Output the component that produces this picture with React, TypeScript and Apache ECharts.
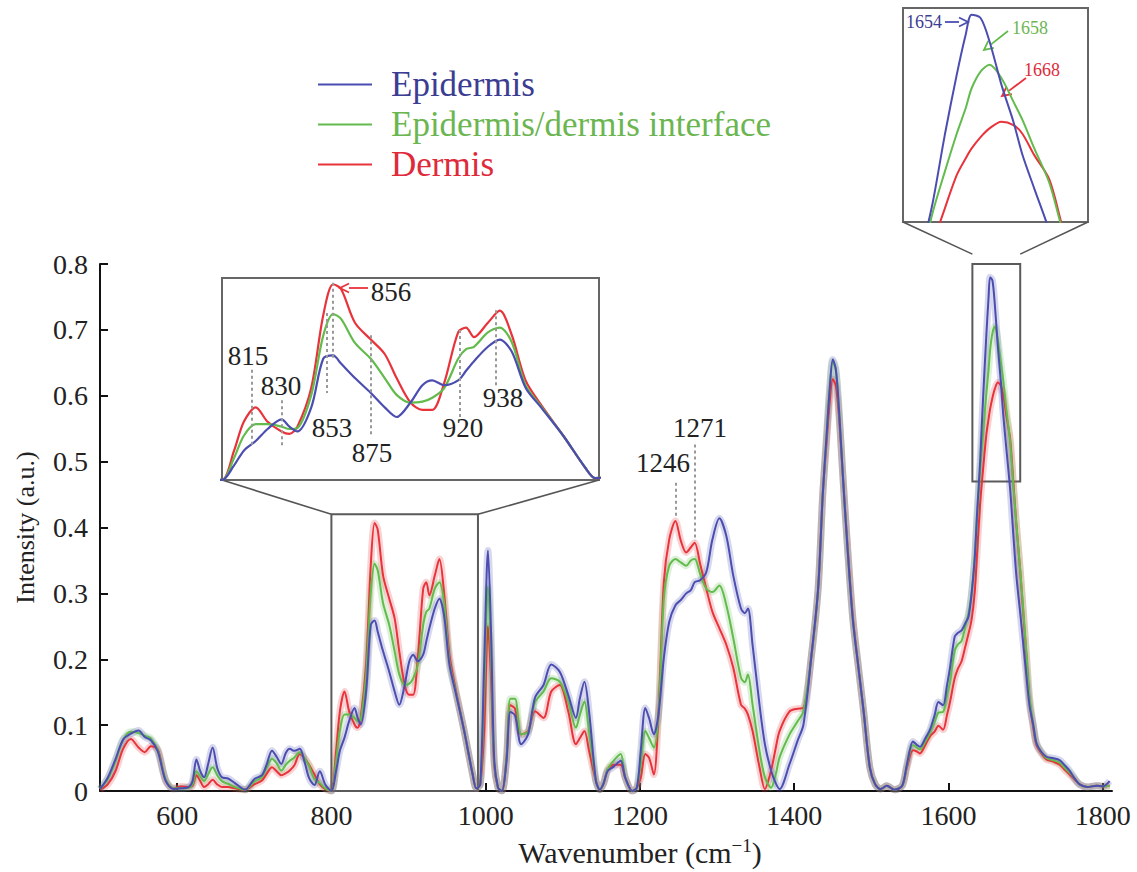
import React, { useEffect, useRef } from 'react';
import * as echarts from 'echarts';

// Wavenumber grid (cm^-1)
const wavenumbers = [
  500, 510, 520, 530, 540, 550, 558, 566, 575, 585,
  595, 605, 615, 620, 625, 630, 635, 640, 646, 652,
  658, 666, 675, 688, 700, 710, 716, 723, 729, 735,
  741, 746, 752, 759, 765, 771, 778, 785, 792, 800,
  806, 811, 817, 823, 830, 834, 838, 845, 851, 856,
  860, 867, 875, 882, 888, 895, 901, 906, 912, 919,
  923, 927, 934, 940, 946, 953, 961, 972, 983, 988,
  993, 998, 1003, 1007, 1011, 1016, 1021, 1027, 1032, 1038,
  1046, 1055, 1064, 1075, 1085, 1096, 1107, 1117, 1122, 1128,
  1134, 1143, 1148, 1153, 1158, 1166, 1175, 1181, 1190, 1196,
  1201, 1207, 1212, 1218, 1224, 1231, 1238, 1246, 1253, 1260,
  1266, 1271, 1278, 1286, 1294, 1303, 1312, 1321, 1331, 1336,
  1340, 1346, 1355, 1362, 1370, 1376, 1381, 1394, 1404, 1412,
  1422, 1431, 1437, 1442, 1446, 1450, 1454, 1458, 1463, 1469,
  1476, 1483, 1490, 1498, 1505, 1512, 1520, 1530, 1540, 1546,
  1554, 1559, 1563, 1570, 1576, 1582, 1587, 1593, 1598, 1602,
  1608, 1612, 1617, 1622, 1626, 1630, 1634, 1637, 1641, 1645,
  1649, 1652, 1654, 1657, 1660, 1664, 1668, 1671, 1675, 1680,
  1684, 1688, 1693, 1697, 1701, 1705, 1710, 1714, 1720, 1727,
  1735, 1744, 1750, 1757, 1763, 1770, 1780, 1792, 1800, 1809,
];

const epidermis = [
  0.003, 0.02, 0.048, 0.078, 0.087, 0.092, 0.082, 0.077, 0.06, 0.016,
  0.003, 0.004, 0.006, 0.015, 0.048, 0.03, 0.021, 0.04, 0.066, 0.035,
  0.021, 0.019, 0.012, 0.002, 0.018, 0.024, 0.04, 0.061, 0.052, 0.041,
  0.058, 0.064, 0.061, 0.064, 0.045, 0.02, 0.009, 0.03, 0.01, 0.0,
  0.03, 0.061, 0.081, 0.106, 0.126, 0.111, 0.101, 0.151, 0.252, 0.259,
  0.242, 0.212, 0.181, 0.151, 0.131, 0.161, 0.197, 0.207, 0.197, 0.207,
  0.227, 0.247, 0.277, 0.292, 0.267, 0.192, 0.15, 0.092, 0.026, 0.004,
  0.01, 0.19, 0.365, 0.24, 0.05, 0.005, 0.0, 0.045, 0.12, 0.115,
  0.071, 0.086, 0.142, 0.161, 0.192, 0.181, 0.146, 0.111, 0.14, 0.166,
  0.121, 0.015, 0.002, 0.012, 0.03, 0.037, 0.046, 0.02, 0.0, 0.005,
  0.06, 0.126, 0.11, 0.086, 0.116, 0.202, 0.257, 0.282, 0.29, 0.3,
  0.305, 0.317, 0.32, 0.332, 0.382, 0.414, 0.387, 0.327, 0.277, 0.27,
  0.277, 0.222, 0.131, 0.071, 0.031, 0.012, 0.003, 0.041, 0.075, 0.101,
  0.202, 0.307, 0.45, 0.54, 0.61, 0.655, 0.64, 0.58, 0.48, 0.37,
  0.26, 0.19, 0.121, 0.036, 0.01, 0.003, 0.008, 0.002, 0.008, 0.04,
  0.075, 0.07, 0.067, 0.08, 0.093, 0.115, 0.135, 0.13, 0.16, 0.187,
  0.234, 0.24, 0.244, 0.255, 0.265, 0.3, 0.353, 0.42, 0.5, 0.6,
  0.69, 0.75, 0.78, 0.775, 0.74, 0.675, 0.62, 0.571, 0.52, 0.457,
  0.39, 0.327, 0.27, 0.223, 0.175, 0.13, 0.1, 0.073, 0.06, 0.052,
  0.05, 0.047, 0.04, 0.031, 0.02, 0.01, 0.006, 0.008, 0.007, 0.015,
];

const interfaceZone = [
  0.003, 0.018, 0.045, 0.078, 0.09, 0.088, 0.084, 0.08, 0.062, 0.018,
  0.004, 0.004, 0.005, 0.01, 0.03, 0.022, 0.015, 0.025, 0.036, 0.024,
  0.015, 0.011, 0.006, 0.002, 0.014, 0.021, 0.035, 0.049, 0.042, 0.031,
  0.04, 0.046, 0.051, 0.059, 0.05, 0.038, 0.018, 0.012, 0.004, 0.0,
  0.045, 0.092, 0.116, 0.116, 0.111, 0.106, 0.108, 0.177, 0.3, 0.345,
  0.335, 0.285, 0.252, 0.212, 0.177, 0.161, 0.163, 0.171, 0.191, 0.252,
  0.272, 0.277, 0.307, 0.317, 0.287, 0.197, 0.152, 0.092, 0.026, 0.004,
  0.01, 0.15, 0.31, 0.2, 0.045, 0.005, 0.0, 0.05, 0.14, 0.14,
  0.086, 0.09, 0.135, 0.151, 0.171, 0.166, 0.136, 0.096, 0.115, 0.136,
  0.091, 0.015, 0.002, 0.012, 0.033, 0.046, 0.056, 0.02, 0.0, 0.005,
  0.04, 0.091, 0.08, 0.066, 0.116, 0.292, 0.342, 0.352, 0.347, 0.342,
  0.35, 0.352, 0.33, 0.307, 0.302, 0.312, 0.282, 0.232, 0.172, 0.165,
  0.177, 0.131, 0.061, 0.021, 0.005, 0.025, 0.051, 0.086, 0.105, 0.121,
  0.202, 0.307, 0.45, 0.54, 0.61, 0.652, 0.638, 0.58, 0.48, 0.37,
  0.26, 0.19, 0.121, 0.036, 0.01, 0.003, 0.008, 0.002, 0.008, 0.038,
  0.07, 0.066, 0.063, 0.075, 0.088, 0.105, 0.119, 0.12, 0.145, 0.166,
  0.213, 0.222, 0.228, 0.25, 0.27, 0.3, 0.353, 0.41, 0.485, 0.545,
  0.602, 0.64, 0.67, 0.695, 0.705, 0.685, 0.65, 0.623, 0.58, 0.529,
  0.465, 0.405, 0.335, 0.275, 0.21, 0.145, 0.1, 0.073, 0.06, 0.05,
  0.047, 0.043, 0.036, 0.028, 0.02, 0.01, 0.006, 0.008, 0.007, 0.008,
];

const dermis = [
  0.002, 0.01, 0.03, 0.064, 0.079, 0.066, 0.059, 0.068, 0.063, 0.016,
  0.004, 0.007, 0.006, 0.008, 0.024, 0.015, 0.006, 0.01, 0.017, 0.01,
  0.006, 0.006, 0.004, 0.002, 0.01, 0.016, 0.026, 0.036, 0.03, 0.024,
  0.027, 0.031, 0.039, 0.056, 0.05, 0.04, 0.025, 0.01, 0.003, 0.0,
  0.06, 0.121, 0.151, 0.121, 0.101, 0.096, 0.111, 0.192, 0.342, 0.407,
  0.397, 0.327, 0.292, 0.262, 0.212, 0.161, 0.146, 0.146, 0.202, 0.307,
  0.317, 0.297, 0.327, 0.352, 0.302, 0.207, 0.155, 0.092, 0.026, 0.004,
  0.01, 0.09, 0.25, 0.17, 0.04, 0.005, 0.0, 0.05, 0.13, 0.125,
  0.086, 0.091, 0.121, 0.111, 0.151, 0.161, 0.121, 0.071, 0.08, 0.091,
  0.061, 0.015, 0.002, 0.012, 0.032, 0.04, 0.04, 0.02, 0.0, 0.005,
  0.02, 0.056, 0.05, 0.025, 0.116, 0.317, 0.382, 0.41, 0.38, 0.362,
  0.37, 0.377, 0.345, 0.307, 0.272, 0.247, 0.222, 0.187, 0.131, 0.125,
  0.116, 0.091, 0.036, 0.003, 0.031, 0.065, 0.091, 0.121, 0.125, 0.126,
  0.202, 0.307, 0.45, 0.53, 0.59, 0.625, 0.615, 0.57, 0.48, 0.375,
  0.265, 0.19, 0.121, 0.036, 0.01, 0.003, 0.008, 0.002, 0.008, 0.035,
  0.062, 0.06, 0.057, 0.07, 0.083, 0.09, 0.099, 0.093, 0.115, 0.135,
  0.171, 0.185, 0.197, 0.22, 0.239, 0.26, 0.301, 0.36, 0.436, 0.49,
  0.54, 0.565, 0.58, 0.597, 0.61, 0.62, 0.615, 0.602, 0.57, 0.534,
  0.47, 0.405, 0.335, 0.27, 0.205, 0.14, 0.095, 0.07, 0.058, 0.048,
  0.045, 0.04, 0.033, 0.025, 0.018, 0.01, 0.006, 0.008, 0.007, 0.008,
];

const xTickValues = [600, 800, 1000, 1200, 1400, 1600, 1800];
const seriesNames = ['Epidermis', 'Epidermis/dermis interface', 'Dermis'];

// Zoomed regions (data units): [xMin, xMax, yMin, yMax]
const zoomRegion1 = [800, 990, 0, 0.42];
const zoomRegion2 = [1631, 1693, 0.47, 0.815];

// Annotated peaks: [wavenumber, top, bottom]
const insetPeakLines = [
  [815, 0.229, 0.069],
  [830, 0.166, 0.069],
  [853, 0.347, 0.181],
  [856, 0.41, 0.25],
  [875, 0.301, 0.089],
  [920, 0.312, 0.131],
  [938, 0.353, 0.193],
];
const mainPeakLines = [
  [1246, 0.468, 0.415],
  [1271, 0.526, 0.38],
];

const BLUE = '#4b4db0';
const GREEN = '#62bb4c';
const RED = '#e8333b';
const SERIF = 'Liberation Serif';

export default function App() {
  const ref = useRef<HTMLDivElement>(null);

  useEffect(() => {
    const chart = echarts.init(ref.current as HTMLDivElement, null, { renderer: 'svg' });

    const groups = [
      { name: 'Dermis', values: dermis, color: RED },
      { name: 'Epidermis/dermis interface', values: interfaceZone, color: GREEN },
      { name: 'Epidermis', values: epidermis, color: BLUE },
    ];

    const series: any[] = [];
    groups.forEach((g) => {
      const pts = wavenumbers.map((w, i) => [w, g.values[i]]);
      series.push({
        type: 'line', name: g.name + ' sd', xAxisIndex: 0, yAxisIndex: 0, data: pts,
        showSymbol: false, smooth: 0.3, silent: true, z: 1,
        lineStyle: { color: g.color, width: 7, opacity: 0.22 },
      });
    });
    groups.forEach((g) => {
      const pts = wavenumbers.map((w, i) => [w, g.values[i]]);
      const s: any = {
        type: 'line', name: g.name, xAxisIndex: 0, yAxisIndex: 0, data: pts,
        showSymbol: false, smooth: 0.3, z: 3,
        lineStyle: { color: g.color, width: 2 }, itemStyle: { color: g.color },
      };
      if (g.name === 'Epidermis') {
        s.markArea = {
          silent: true,
          itemStyle: { color: 'rgba(0,0,0,0)', borderColor: '#5a5a5a', borderWidth: 2 },
          data: [
            [{ coord: [zoomRegion1[0], zoomRegion1[2]] }, { coord: [zoomRegion1[1], zoomRegion1[3]] }],
            [{ coord: [zoomRegion2[0], zoomRegion2[2]] }, { coord: [zoomRegion2[1], zoomRegion2[3]] }],
          ],
        };
      }
      if (g.name === 'Dermis') {
        s.markLine = {
          silent: true, symbol: ['none', 'none'], label: { show: false },
          lineStyle: { color: '#999', width: 2, type: [3, 3] },
          data: mainPeakLines.map((p) => [{ coord: [p[0], p[1]] }, { coord: [p[0], p[2]] }]),
        };
      }
      series.push(s);
      series.push({
        type: 'line', name: g.name, xAxisIndex: 1, yAxisIndex: 1, data: pts,
        showSymbol: false, smooth: 0.3, z: 3, clip: true,
        lineStyle: { color: g.color, width: 2.2 }, itemStyle: { color: g.color },
        markLine: g.name === 'Dermis' ? {
          silent: true, symbol: ['none', 'none'], label: { show: false },
          lineStyle: { color: '#999', width: 2, type: [3, 3] },
          data: insetPeakLines.map((p) => [{ coord: [p[0], p[1]] }, { coord: [p[0], p[2]] }]),
        } : undefined,
      });
      series.push({
        type: 'line', name: g.name, xAxisIndex: 2, yAxisIndex: 2, data: pts,
        showSymbol: false, smooth: 0.3, z: 3, clip: true,
        lineStyle: { color: g.color, width: 2 }, itemStyle: { color: g.color },
      });
    });

    const option: any = {
      animation: false,
      backgroundColor: '#ffffff',
      textStyle: { fontFamily: SERIF },
      legend: {
        orient: 'vertical', left: 313, top: 62, itemWidth: 54, itemHeight: 2, icon: 'rect',
        itemGap: 5, selectedMode: false,
        textStyle: { fontFamily: SERIF, fontSize: 35, lineHeight: 34, padding: [0, 0, 0, 14] },
        data: [
          { name: seriesNames[0], textStyle: { color: '#3b3d92' } },
          { name: seriesNames[1], textStyle: { color: '#6cb652' } },
          { name: seriesNames[2], textStyle: { color: '#de2a3a' } },
        ],
      },
      grid: [
        { left: 100, top: 264, width: 1012, height: 530 },
        { left: 222, top: 278, width: 377, height: 202, show: true, borderColor: '#666', borderWidth: 2, backgroundColor: '#fff' },
        { left: 903, top: 8, width: 185, height: 214, show: true, borderColor: '#666', borderWidth: 2, backgroundColor: '#fff' },
      ],
      xAxis: [
        {
          type: 'value', gridIndex: 0, min: 500, max: 1812,
          axisLine: { lineStyle: { color: '#111', width: 2 } },
          axisTick: { inside: true, length: 8, lineStyle: { color: '#111', width: 2 }, customValues: xTickValues },
          axisLabel: {
            fontFamily: SERIF, fontSize: 28, color: '#222', margin: 10, customValues: xTickValues,
            formatter: (v: number) => String(v),
          },
          splitLine: { show: false },
          name: '{a|Wavenumber (cm}{s|\u22121}{a|)}', nameLocation: 'middle', nameGap: 45,
          nameTextStyle: {
            padding: [0, 0, 0, 68],
            rich: {
              a: { fontFamily: SERIF, fontSize: 30, color: '#222' },
              s: { fontFamily: SERIF, fontSize: 19, color: '#222', verticalAlign: 'top', padding: [0, 0, 13, 0] },
            },
          },
        },
        { type: 'value', gridIndex: 1, min: zoomRegion1[0], max: zoomRegion1[1], show: false },
        { type: 'value', gridIndex: 2, min: zoomRegion2[0], max: zoomRegion2[1], show: false },
      ],
      yAxis: [
        {
          type: 'value', gridIndex: 0, min: 0, max: 0.8, interval: 0.1,
          axisLine: { show: true, lineStyle: { color: '#111', width: 2 } },
          axisTick: { show: true, inside: true, length: 8, lineStyle: { color: '#111', width: 2 } },
          axisLabel: { fontFamily: SERIF, fontSize: 28, color: '#222', margin: 12 },
          splitLine: { show: false },
          name: 'Intensity (a.u.)', nameLocation: 'middle', nameGap: 62,
          nameTextStyle: { fontFamily: SERIF, fontSize: 26, color: '#222' },
        },
        { type: 'value', gridIndex: 1, min: zoomRegion1[2], max: zoomRegion1[3], show: false },
        { type: 'value', gridIndex: 2, min: 0.47, max: 0.79, show: false },
      ],
      series,
    };

    chart.setOption(option);

    const toPx = (pt: number[]) =>
      chart.convertToPixel({ xAxisIndex: 0, yAxisIndex: 0 }, pt) as number[];
    const b1tl = toPx([zoomRegion1[0], zoomRegion1[3]]);
    const b1tr = toPx([zoomRegion1[1], zoomRegion1[3]]);
    const b2tl = toPx([zoomRegion2[0], zoomRegion2[3]]);
    const b2tr = toPx([zoomRegion2[1], zoomRegion2[3]]);

    const conn = (x1: number, y1: number, x2: number, y2: number) => ({
      type: 'line', silent: true,
      shape: { x1, y1, x2, y2 },
      style: { stroke: '#555', lineWidth: 1.6 },
    });
    const txt = (text: string, x: number, y: number, color: string, size: number) => ({
      type: 'text', silent: true, x, y,
      style: { text, fill: color, fontFamily: SERIF, fontSize: size, align: 'center', verticalAlign: 'middle' },
    });
    const arrow = (x1: number, y1: number, x2: number, y2: number, color: string) => {
      const ang = Math.atan2(y2 - y1, x2 - x1);
      const L = 9, W = 4.5;
      const bx = x2 - L * Math.cos(ang), by = y2 - L * Math.sin(ang);
      const nx = -Math.sin(ang), ny = Math.cos(ang);
      return [
        { type: 'line', silent: true, shape: { x1, y1, x2: bx, y2: by }, style: { stroke: color, lineWidth: 1.8 } },
        {
          type: 'polyline', silent: true,
          shape: { points: [[bx + nx * W, by + ny * W], [x2, y2], [bx - nx * W, by - ny * W]] },
          style: { stroke: color, lineWidth: 1.8, fill: 'none' },
        },
      ];
    };

    chart.setOption({
      graphic: [
        conn(222, 480, b1tl[0], b1tl[1]),
        conn(599, 480, b1tr[0], b1tr[1]),
        conn(903, 222, b2tl[0], b2tl[1]),
        conn(1088, 222, b2tr[0], b2tr[1]),
        txt('815', 248, 356, '#222', 27),
        txt('830', 281, 386, '#222', 27),
        txt('853', 332, 428, '#222', 27),
        txt('856', 391, 292, '#222', 27),
        txt('875', 372, 453, '#222', 27),
        txt('920', 463, 428, '#222', 27),
        txt('938', 503, 398, '#222', 27),
        txt('1246', 663, 463, '#222', 27),
        txt('1271', 700, 428, '#222', 27),
        ...arrow(368, 288, 340, 288, RED),
        txt('1654', 924, 22, '#3b3d92', 18),
        txt('1658', 1030, 28, '#6cb652', 18),
        txt('1668', 1042, 70, '#de2a3a', 18),
        ...arrow(945, 22, 968, 22, BLUE),
        ...arrow(1008, 31, 984, 50, GREEN),
        ...arrow(1026, 78, 1002, 96, RED),
      ],
    });

    return () => chart.dispose();
  }, []);

  return (
    <div
      ref={ref}
      style={{ position: 'absolute', left: 0, top: 0, width: 1137, height: 872, background: '#fff' }}
    />
  );
}
